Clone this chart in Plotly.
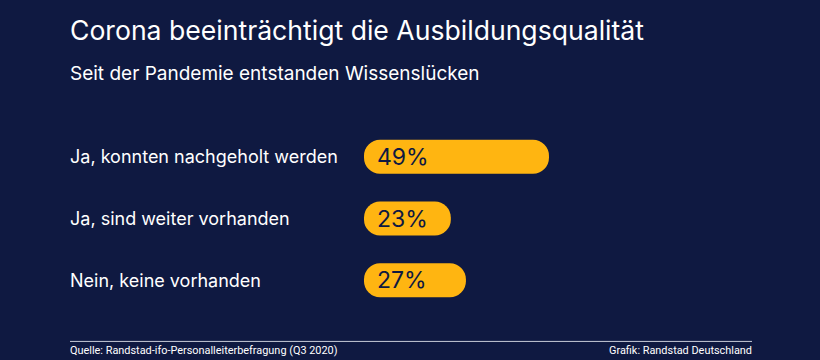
import plotly.graph_objects as go

categories = ["Ja, konnten nachgeholt werden", "Ja, sind weiter vorhanden", "Nein, keine vorhanden"]
values = [49, 23, 27]
value_labels = ["49%", "23%", "27%"]

title = "Corona beeinträchtigt die Ausbildungsqualität"
subtitle = "Seit der Pandemie entstanden Wissenslücken"
source = "Quelle: Randstad-ifo-Personalleiterbefragung (Q3 2020)"
credit = "Grafik: Randstad Deutschland"

BG = "#0f1941"
BAR = "#ffb511"
FONT = "Inter"

k = 3.775          # px per percent

fig = go.Figure()
fig.add_trace(go.Bar(
    y=categories, x=values, base=[0] * len(values),
    orientation="h", marker=dict(color=BAR, line=dict(width=0), cornerradius="50%"),
    hoverinfo="skip", showlegend=False,
))

T, B = 126, 48.5
H = 360 - T - B

def py(p):
    return (360 - B - p) / H

annotations = []
for c, lab in zip(categories, value_labels):
    annotations.append(dict(x=0, y=c, xref="x", yref="y", text=lab, showarrow=False,
                            xanchor="left", yanchor="middle", xshift=11,
                            font=dict(family=FONT, size=23, color=BG)))
    annotations.append(dict(x=0, y=c, xref="paper", yref="y", text=c, showarrow=False,
                            xanchor="left", yanchor="middle", xshift=-2,
                            font=dict(family=FONT, size=18, color="#ffffff")))

annotations += [
    dict(x=0, y=py(30), xref="paper", yref="paper", text=title, showarrow=False,
         xanchor="left", yanchor="middle", xshift=-2, font=dict(family=FONT, size=26.6, color="#ffffff")),
    dict(x=0, y=py(73), xref="paper", yref="paper", text=subtitle, showarrow=False,
         xanchor="left", yanchor="middle", xshift=-2, font=dict(family=FONT, size=19, color="#ffffff")),
    dict(x=0, y=py(351), xref="paper", yref="paper", text=source, showarrow=False,
         xanchor="left", yanchor="middle", xshift=-2,
         font=dict(family="Roboto", size=10.9, color="#ffffff")),
    dict(x=1, y=py(351), xref="paper", yref="paper", text=credit, showarrow=False,
         xanchor="right", yanchor="middle", xshift=2,
         font=dict(family="Roboto", size=10.9, color="#ffffff")),
]

plot_w = 820 - 70 - 68
xmin = -(364 - 70) / k
xmax = xmin + plot_w / k

fig.update_layout(
    width=820, height=360,
    margin=dict(l=70, r=68, t=T, b=B, pad=0),
    paper_bgcolor=BG, plot_bgcolor=BG,
    bargap=0.45,
    xaxis=dict(range=[xmin, xmax], visible=False, fixedrange=True),
    yaxis=dict(autorange="reversed", visible=False, fixedrange=True),
    annotations=annotations,
    shapes=[dict(type="line", xref="paper", yref="paper", x0=0, x1=1, y0=py(342), y1=py(342),
                 line=dict(color="#c9ccd8", width=1))],
)

fig.write_html("out.html", config={"displayModeBar": False},
               post_script="document.body.style.margin='0';document.body.style.background='%s';" % BG)
